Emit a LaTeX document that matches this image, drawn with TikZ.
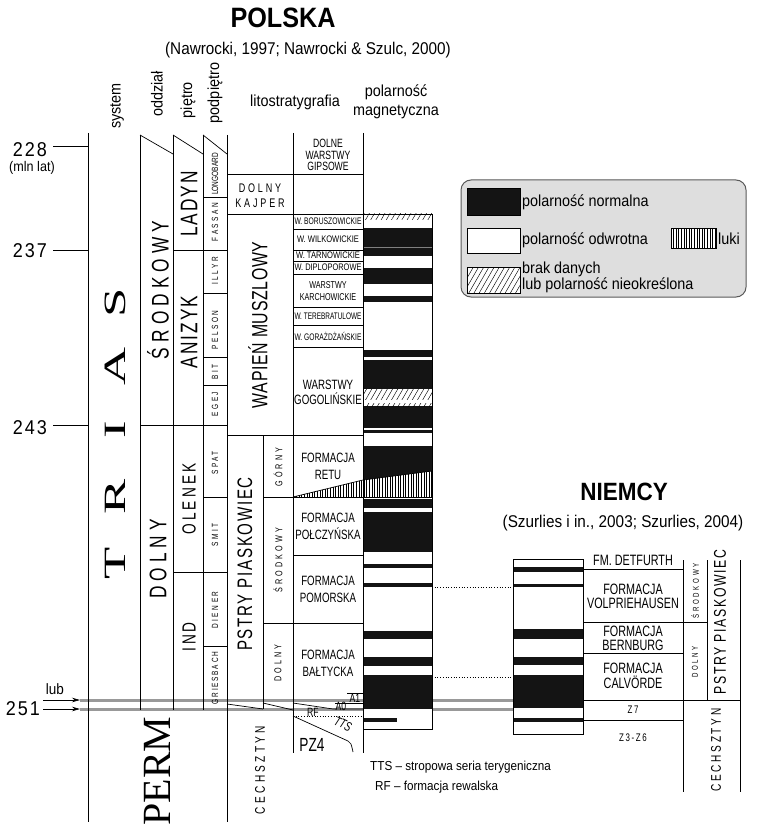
\documentclass[tikz,border=0pt]{standalone}
\usepackage{fontspec}
\setmainfont{Liberation Sans}[FakeStretch=0.9]
\newfontfamily\cond{Liberation Sans}[FakeStretch=0.72]
\newfontfamily\serifF{Liberation Serif}
\usetikzlibrary{patterns.meta,arrows.meta}
\newcommand\fsz[1]{\fontsize{#1}{#1}\selectfont}
\newcommand\lsp[1]{\addfontfeature{LetterSpace=#1}}
\newcommand\fitw[2]{\resizebox{#1pt}{\height}{#2}}
\definecolor{legbg}{gray}{0.87}
\definecolor{grayln}{gray}{0.6}
\definecolor{legedge}{gray}{0.35}
\begin{document}
\begin{tikzpicture}[x=1pt,y=-1pt,
  ln/.style={line width=0.7pt},
  thn/.style={line width=0.5pt},
  blk/.style={fill=black!92},
  hatchd/.style={pattern={Lines[angle=60,distance=4.5pt,line width=0.45pt]}},
  hatchv/.style={pattern={Lines[angle=90,distance=2.6pt,line width=0.45pt]}},
  txt/.style={inner sep=0pt, align=center},
  rot/.style={txt, rotate=90},
  grayline/.style={draw=grayln, line width=3pt},
  dotl/.style={dotted, line width=0.7pt},
  arr/.style={line width=0.7pt, -{Stealth[length=8pt,width=4.5pt]}},
  podp/.style={rot, font=\cond\fsz{9}\lsp{28}},
  form/.style={txt, font=\cond\fontsize{13.5}{17}\selectfont},
  wlab/.style={txt, font=\cond\fsz{9.5}},
  age/.style={txt, font=\fsz{20}\lsp{10}},
  hdr/.style={txt, font=\fsz{16}},
]
\useasboundingbox (0,0) rectangle (759,826);

% ---------- titles ----------
\node[txt, font=\bfseries\fsz{28}] (tPL) at (283,18) {POLSKA};
\node[txt, font=\fsz{17}] (sPL) at (308,50) {(Nawrocki, 1997; Nawrocki \& Szulc, 2000)};
\node[txt, font=\bfseries\fsz{25}] (tDE) at (624,492) {NIEMCY};
\node[txt, font=\fsz{17}] (sDE) at (623,523) {(Szurlies i in., 2003; Szurlies, 2004)};

% ---------- headers ----------
\node[hdr, rotate=90] (hSys) at (117,106) {system};
\node[hdr, rotate=90] (hOdd) at (157,94) {oddział};
\node[hdr, rotate=90] (hPie) at (188,100) {piętro};
\node[hdr, rotate=90] (hPod) at (215,93) {podpiętro};
\node[txt, font=\fsz{16}] (hLit) at (295,102) {litostratygrafia};
\node[txt, font=\fontsize{16}{19}\selectfont] (hPol) at (396,102) {polarność\\magnetyczna};

% ---------- gray boundary lines ----------
\coordinate (g1a) at (80,700); \coordinate (g1b) at (513,700);
\coordinate (g2a) at (80,709); \coordinate (g2b) at (513,709);
\draw[grayline] (g1a) -- (g1b);
\draw[grayline] (g2a) -- (g2b);

% ---------- age scale ----------
\draw[ln] (53,146) -- (88,146);
\draw[ln] (53,250) -- (88,250);
\draw[ln] (53,425) -- (88,425);
\node[age] (a228) at (30,150) {228};
\node[txt, font=\fsz{14}] (mln) at (32,168) {(mln lat)};
\node[age] (a237) at (30,251) {237};
\node[age] (a243) at (30,428) {243};
\node[age] (a251) at (23,709) {251};
\node[txt, font=\fsz{15}] (lub) at (55,689) {lub};
\coordinate (ar1) at (43,700); \coordinate (ar2) at (43,709);
\draw[arr] (ar1) -- (g1a);
\draw[arr] (ar2) -- (g2a);

% ---------- left chronostratigraphic columns ----------
\draw[ln] (88,133) -- (88,822);
\draw[ln] (140,135) -- (140,710);
\draw[ln] (173,135) -- (173,710);
\draw[ln] (203,135) -- (203,710);
\draw[ln] (227,135) -- (227,822);
\draw[ln] (140,135) -- (173,154);
\draw[ln] (173,135) -- (203,154);
\draw[ln] (203,135) -- (227,154);
\draw[ln] (173,250) -- (227,250);
\draw[ln] (203,197) -- (227,197);
\draw[ln] (203,293) -- (227,293);
\draw[ln] (203,357) -- (227,357);
\draw[ln] (203,385) -- (227,385);
\draw[ln] (140,425) -- (227,425);
\draw[ln] (203,497) -- (227,497);
\draw[ln] (173,572) -- (227,572);
\draw[ln] (203,646) -- (227,646);

\foreach \ch/\yy/\nm in {S/303/tS, A/366/tA, I/430/tI, R/497/tR, T/563/tT}
  \node[rot, font=\serifF\fsz{31}] (\nm) at (115,\yy) {\scalebox{1.7}[1]{\ch}};
\node[rot, font=\serifF\fsz{40}] (perm) at (157,771) {PERM};

\node[rot, font=\cond\fsz{24}\lsp{21}] (oSr) at (158,290) {ŚRODKOWY};
\node[rot, font=\cond\fsz{24}\lsp{21}] (oDo) at (158,559) {DOLNY};
\node[rot, font=\cond\fsz{24}\lsp{8}] (pLa) at (189,204) {LADYN};
\node[rot, font=\cond\fsz{24}\lsp{8}] (pAn) at (189,332) {ANIZYK};
\node[rot, font=\cond\fsz{19}\lsp{16}] (pOl) at (189,499) {OLENEK};
\node[rot, font=\cond\fsz{19}\lsp{16}] (pIn) at (189,637) {IND};

\node[rot, font=\cond\fsz{9}] (sLo) at (215,174) {LONGOBARD};
\node[podp] (sFa) at (215,222) {FASSAN};
\node[podp] (sIl) at (215,271) {ILLYR};
\node[podp] (sPe) at (215,330) {PELSON};
\node[podp] (sBi) at (215,372) {BIT};
\node[podp] (sEg) at (215,404) {EGEJ};
\node[podp] (sSp) at (215,463) {SPAT};
\node[podp] (sSm) at (215,535) {SMIT};
\node[podp] (sDi) at (215,610) {DIENER};
\node[rot, font=\cond\fsz{9}\lsp{20}] (sGr) at (215,678) {GRIESBACH};

% ---------- Polish lithostratigraphy ----------
\draw[ln] (293,133) -- (293,753);
\draw[ln] (363,133) -- (363,753);
\draw[ln] (227,174) -- (363,174);
\draw[ln] (227,214) -- (363,214);
\foreach \yy in {229,250,261,274,307,325,347}
  \draw[thn] (293,\yy) -- (363,\yy);
\draw[ln] (227,435) -- (363,435);
\draw[ln] (263,435) -- (263,709);
\draw[ln] (263,497) -- (363,497);
\draw[ln] (293,555) -- (363,555);
\draw[ln] (263,623) -- (363,623);
\draw[ln] (227,704) -- (263,709);
\draw[ln] (263,703) -- (293,710);
\draw[ln] (293,703) -- (333,709) -- (363,709);
\draw[thn] (335,703) -- (363,703);
\draw[thn] (347,693) -- (363,693);
\draw[dotl] (293,716) -- (363,716);
\draw[ln] (293,716) -- (348,741) .. controls (351,743) .. (353,752);

\node[txt, font=\cond\fontsize{12}{11.5}\selectfont] (fGip) at (328,155) {DOLNE\\WARSTWY\\GIPSOWE};
\node[txt, font=\cond\fontsize{12.5}{15}\selectfont\lsp{23}] (fKaj) at (260,195.5) {DOLNY\\KAJPER};
\node[wlab] (fBor) at (328,221.5) {\fitw{67}{W. BORUSZOWICKIE}};
\node[wlab] (fWil) at (328,239.5) {\fitw{62}{W. WILKOWICKIE}};
\node[wlab] (fTar) at (328,255.5) {\fitw{64}{W. TARNOWICKIE}};
\node[wlab] (fDip) at (328,267.5) {\fitw{67}{W. DIPLOPOROWE}};
\node[txt, font=\cond\fontsize{10}{11.5}\selectfont] (fKar) at (328,291) {WARSTWY\\KARCHOWICKIE};
\node[wlab] (fTer) at (328,316) {\fitw{67}{W. TEREBRATULOWE}};
\node[wlab] (fGor) at (328,336) {\fitw{67}{W. GORAŻDŻAŃSKIE}};
\node[txt, font=\cond\fontsize{13.5}{15}\selectfont] (fGog) at (328,392.5) {WARSTWY\\GOGOLIŃSKIE};
\node[form] (fRet) at (328,466.5) {FORMACJA\\RETU};
\node[form] (fPol) at (328,526.5) {FORMACJA\\POŁCZYŃSKA};
\node[form] (fPom) at (328,589.5) {FORMACJA\\POMORSKA};
\node[form] (fBal) at (328,663.5) {FORMACJA\\BAŁTYCKA};

\node[rot, font=\cond\fsz{22}\lsp{3}] (gWap) at (258,325) {WAPIEŃ MUSZLOWY};
\node[rot, font=\cond\fsz{21}\lsp{8}] (gPst) at (245,564) {PSTRY PIASKOWIEC};
\node[rot, font=\cond\fsz{10}\lsp{32}] (gGo) at (278,467) {GÓRNY};
\node[rot, font=\cond\fsz{10}\lsp{32}] (gSr) at (278,560) {ŚRODKOWY};
\node[rot, font=\cond\fsz{10}\lsp{32}] (gDo) at (278,663) {DOLNY};
\node[rot, font=\cond\fsz{14}\lsp{24}] (gCe) at (260,770) {CECHSZTYN};

\node[txt, font=\cond\fsz{12}] (lRF) at (313,712) {RF};
\node[txt, font=\cond\fsz{12}] (lA0) at (341,706) {A0};
\node[txt, font=\cond\fsz{12}] (lA1) at (355,698) {A1};
\node[txt, font=\cond\itshape\fsz{13}, rotate=-25] (lTTS) at (343,724) {TTS};
\node[txt, font=\cond\fsz{19}] (lPZ) at (312,745) {PZ4};

% ---------- Polish polarity column ----------
\fill[white] (363,214) rectangle (432,729);
\foreach \a/\b in {228/256, 268/284, 296/302, 350/357, 360/389, 406/428, 430/433,
                   499/508, 512/552, 564/568, 583/587, 631/639, 657/666, 675/709}
  \fill[blk] (363,\a) rectangle (432,\b);
\draw[draw=gray, line width=0.5pt] (363,247) -- (432,247);
\fill[blk] (363,446) -- (432,446) -- (432,471) -- (363,480) -- cycle;
\path[hatchv] (293,497) -- (363,480) -- (432,471) -- (432,497) -- cycle;
\draw[ln] (293,497) -- (363,480) -- (432,471);
\draw[ln] (293,497) -- (432,497);
\path[hatchd] (363,214) rectangle (432,220);
\path[hatchd] (363,389) rectangle (432,399);
\path[hatchd] (363,403) rectangle (432,406);
\fill[blk] (363,718) rectangle (397,722);
\draw[ln] (363,214) rectangle (432,729);

% ---------- correlation dotted lines ----------
\coordinate (d1a) at (432,587); \coordinate (d1b) at (513,587);
\coordinate (d2a) at (432,677); \coordinate (d2b) at (513,677);
\draw[dotl] (d1a) -- (d1b);
\draw[dotl] (d2a) -- (d2b);

% ---------- German column ----------
\fill[white] (513,559) rectangle (583,734);
\foreach \a/\b in {567/572, 584/587, 629/639, 657/665, 675/708, 718/722}
  \fill[blk] (513,\a) rectangle (583,\b);
\draw[ln] (513,559) rectangle (583,734);
\draw[ln] (683,560) -- (683,792);
\draw[ln] (707,560) -- (707,700);
\draw[ln] (740,560) -- (740,792);
\draw[ln] (583,569) -- (683,569);
\draw[ln] (583,622) -- (707,622);
\draw[ln] (583,653) -- (683,653);
\draw[ln] (583,700) -- (740,700);
\draw[ln] (583,720) -- (683,720);

\node[txt, font=\cond\fsz{15}] (nDet) at (633,560) {FM. DETFURTH};
\node[txt, font=\cond\fontsize{15}{13.5}\selectfont] (nVol) at (633,596.5) {FORMACJA\\VOLPRIEHAUSEN};
\node[txt, font=\cond\fontsize{15}{14}\selectfont] (nBer) at (633,638) {FORMACJA\\BERNBURG};
\node[txt, font=\cond\fontsize{15}{15}\selectfont] (nCal) at (633,675.5) {FORMACJA\\CALVÖRDE};
\node[txt, font=\cond\fsz{11}\lsp{15}] (nZ7) at (633,710) {Z7};
\node[txt, font=\cond\fsz{11}\lsp{15}] (nZ3) at (633,738) {Z3-Z6};
\node[rot, font=\cond\fsz{8.5}\lsp{32}] (nSr) at (695,591) {ŚRODKOWY};
\node[rot, font=\cond\fsz{8.5}\lsp{30}] (nDo) at (695,662) {DOLNY};
\node[rot, font=\cond\fsz{17}\lsp{10}] (nPs) at (720,622) {PSTRY PIASKOWIEC};
\node[rot, font=\cond\fsz{14}\lsp{19}] (nCe) at (716,750) {CECHSZTYN};

% ---------- footnotes ----------
\node[txt, font=\fsz{13}, anchor=west] (fn1) at (370,767) {TTS – stropowa seria terygeniczna};
\node[txt, font=\fsz{13}, anchor=west] (fn2) at (375,787) {RF – formacja rewalska};

% ---------- legend ----------
\draw[draw=legedge, line width=1pt, fill=legbg, rounded corners=10pt] (461,180) rectangle (746,297);
\filldraw[ln, blk] (467,188) rectangle (520,215);
\draw[ln, fill=white] (467,228) rectangle (520,253);
\draw[ln, fill=white] (671,228) rectangle (716,248);
\path[hatchv] (671,228) rectangle (716,248);
\draw[ln, fill=white] (467,267) rectangle (520,293);
\path[hatchd] (467,267) rectangle (520,293);
\node[txt, font=\fsz{16}, anchor=west] (lg1) at (522,202) {polarność normalna};
\node[txt, font=\fsz{16}, anchor=west] (lg2) at (522,240) {polarność odwrotna};
\node[txt, font=\fsz{16}, anchor=west] (lg3) at (718,239) {luki};
\node[txt, font=\fontsize{16}{15}\selectfont, anchor=west, align=left] (lg4) at (522,277) {brak danych\\lub polarność nieokreślona};
\end{tikzpicture}
\end{document}
